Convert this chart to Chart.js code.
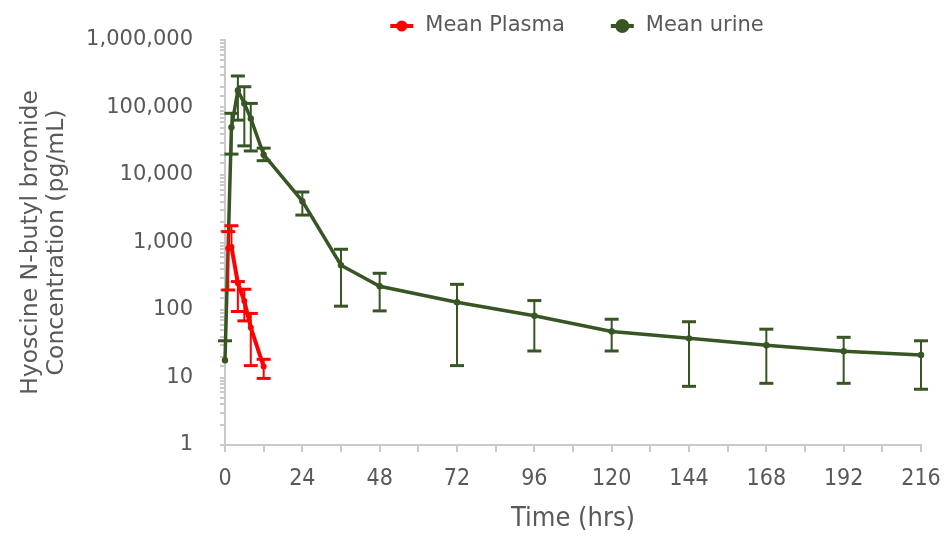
<!DOCTYPE html>
<html>
<head>
<meta charset="utf-8">
<script src="https://cdn.jsdelivr.net/npm/chart.js@4.4.1/dist/chart.umd.min.js"></script>
<style>
html,body{margin:0;padding:0;background:#ffffff;}
#wrap{width:944px;height:536px;position:relative;}
</style>
</head>
<body>
<div id="wrap"><canvas id="c" width="944" height="536"></canvas></div>
<script>
// ---- data ----
const plasmaTimes    = [1, 2, 4, 6, 8, 12];
const plasmaMean     = [820, 860, 250, 136, 55, 14.5];
const plasmaErrHigh  = [1450, 1770, 264, 203, 89, 18.6];
const plasmaErrLow   = [198, null, 95, 69, 15, 9.7];

const urineTimes     = [0, 2, 4, 6, 8, 12, 24, 36, 48, 72, 96, 120, 144, 168, 192, 216];
const urineMean      = [18, 51000, 179000, 115000, 69000, 20000, 4100, 460, 225, 130, 82, 48, 38, 30, 24.5, 21.5];
const urineErrHigh   = [35, 82000, 293000, 203000, 115000, 25000, 5600, 794, 350, 240, 138, 73, 67, 52, 39.4, 35];
const urineErrLow    = [null, 20400, 65000, 27000, 22700, 16300, 2550, 114, 97, 15, 24.7, 24.7, 7.4, 8.2, 8.2, 6.7];

const seriesNames    = ['Mean Plasma', 'Mean urine'];
const xTickValues    = [0, 24, 48, 72, 96, 120, 144, 168, 192, 216];
const yTickValues    = [1, 10, 100, 1000, 10000, 100000, 1000000];
const xTitle         = 'Time (hrs)';
const yTitle         = ['Hyoscine N-butyl bromide', 'Concentration (pg/mL)'];

const RED = '#FF0000';
const GREEN = '#375623';
const TEXT = '#595959';
const AXIS = '#C9C9C9';

function toPoints(ts, vs) { return ts.map((t, i) => ({x: t, y: vs[i]})); }

// error bars drawn through the chart's own scales
const errorBarPlugin = {
  id: 'errorBars',
  beforeDatasetDraw(chart, args) {
    const ds = chart.data.datasets[args.index];
    if (!ds.errHigh) return;
    const xs = chart.scales.x, ys = chart.scales.y;
    const ctx = chart.ctx;
    ctx.save();
    ctx.strokeStyle = ds.borderColor;
    ctx.lineCap = 'butt';
    const cap = 7;
    ds.data.forEach((p, i) => {
      const px = xs.getPixelForValue(p.x);
      const pm = ys.getPixelForValue(p.y);
      const hi = ds.errHigh[i], lo = ds.errLow[i];
      const ph = hi != null ? ys.getPixelForValue(hi) : pm;
      const pl = lo != null ? ys.getPixelForValue(lo) : pm;
      ctx.lineWidth = 2;
      ctx.beginPath(); ctx.moveTo(px, ph); ctx.lineTo(px, pl); ctx.stroke();
      ctx.lineWidth = 3;
      if (hi != null) { ctx.beginPath(); ctx.moveTo(px - cap, ph); ctx.lineTo(px + cap, ph); ctx.stroke(); }
      if (lo != null) { ctx.beginPath(); ctx.moveTo(px - cap, pl); ctx.lineTo(px + cap, pl); ctx.stroke(); }
    });
    ctx.restore();
  }
};

// legend drawn at the top, centered over the plot area
const legendPlugin = {
  id: 'topLegend',
  afterDraw(chart) {
    const ctx = chart.ctx;
    const area = chart.chartArea;
    ctx.save();
    ctx.font = '21px "DejaVu Sans", sans-serif';
    const markerW = 23, gapText = 12, gapItem = 46;
    const radii = [5.5, 7];
    const items = chart.data.datasets.map((d, i) => ({
      label: d.label, color: d.borderColor, r: radii[i], w: markerW + gapText + ctx.measureText(d.label).width
    }));
    const total = items.reduce((s, it) => s + it.w, 0) + gapItem * (items.length - 1);
    let x = (area.left + area.right) / 2 - total / 2 + 4;
    const y = 26;
    items.forEach(it => {
      ctx.strokeStyle = it.color; ctx.fillStyle = it.color; ctx.lineWidth = 4;
      ctx.beginPath(); ctx.moveTo(x, y); ctx.lineTo(x + markerW, y); ctx.stroke();
      ctx.beginPath(); ctx.arc(x + markerW / 2, y, it.r, 0, Math.PI * 2); ctx.fill();
      ctx.fillStyle = TEXT; ctx.textBaseline = 'middle'; ctx.textAlign = 'left';
      ctx.fillText(it.label, x + markerW + gapText, y);
      x += it.w + gapItem;
    });
    ctx.restore();
  }
};

const isPow10 = v => Math.abs(Math.log10(v) - Math.round(Math.log10(v))) < 1e-9;

new Chart(document.getElementById('c'), {
  type: 'line',
  data: {
    datasets: [
      {
        label: seriesNames[0],
        data: toPoints(plasmaTimes, plasmaMean),
        errHigh: plasmaErrHigh, errLow: plasmaErrLow,
        borderColor: RED, backgroundColor: RED,
        borderWidth: 4, pointRadius: 3, pointBorderWidth: 0,
        pointBackgroundColor: RED, tension: 0, clip: false
      },
      {
        label: seriesNames[1],
        data: toPoints(urineTimes, urineMean),
        errHigh: urineErrHigh, errLow: urineErrLow,
        borderColor: GREEN, backgroundColor: GREEN,
        borderWidth: 3.5, pointRadius: 3.2, pointBorderWidth: 0,
        pointBackgroundColor: GREEN, tension: 0, clip: false
      }
    ]
  },
  options: {
    responsive: false,
    animation: false,
    devicePixelRatio: 1,
    layout: { padding: { top: 40, right: 23, bottom: 0, left: 0 } },
    plugins: { legend: { display: false }, tooltip: { enabled: false } },
    scales: {
      x: {
        type: 'linear',
        min: xTickValues[0], max: xTickValues[xTickValues.length - 1],
        afterFit(s) { s.height = 91; s.paddingLeft = 0; s.paddingRight = 0; },
        border: { display: true, color: AXIS, width: 2 },
        grid: { drawOnChartArea: false, drawTicks: true, tickLength: 7, color: AXIS, tickColor: AXIS, lineWidth: 2 },
        ticks: {
          stepSize: 12, maxTicksLimit: 40, autoSkip: false, maxRotation: 0, padding: 13,
          color: TEXT,
          font: { family: '"Liberation Sans Narrow", "DejaVu Sans Condensed", "Liberation Sans", sans-serif', size: 23 },
          callback: v => xTickValues.includes(v) ? String(v) : ''
        },
        title: {
          display: true, text: xTitle, color: TEXT,
          font: { family: '"Liberation Sans Narrow", "DejaVu Sans Condensed", "Liberation Sans", sans-serif', size: 27, lineHeight: 1.2 },
          padding: { top: 0, bottom: 1 }
        }
      },
      y: {
        type: 'logarithmic',
        min: yTickValues[0], max: yTickValues[yTickValues.length - 1],
        afterFit(s) { s.width = 225; },
        border: { display: true, color: AXIS, width: 2 },
        grid: { drawOnChartArea: false, drawTicks: true, tickLength: 5, color: AXIS, tickColor: AXIS, lineWidth: 2 },
        ticks: {
          autoSkip: false, padding: 27, color: TEXT,
          font: { family: '"DejaVu Sans", sans-serif', size: 21 },
          callback: v => isPow10(v) ? Math.round(v).toLocaleString('en-US') : ''
        },
        title: {
          display: true, text: yTitle, color: TEXT,
          font: { family: '"DejaVu Sans", sans-serif', size: 23.5, lineHeight: 1.1 },
          padding: { top: 18, bottom: 0 }
        }
      }
    }
  },
  plugins: [errorBarPlugin, legendPlugin]
});
</script>
</body>
</html>
